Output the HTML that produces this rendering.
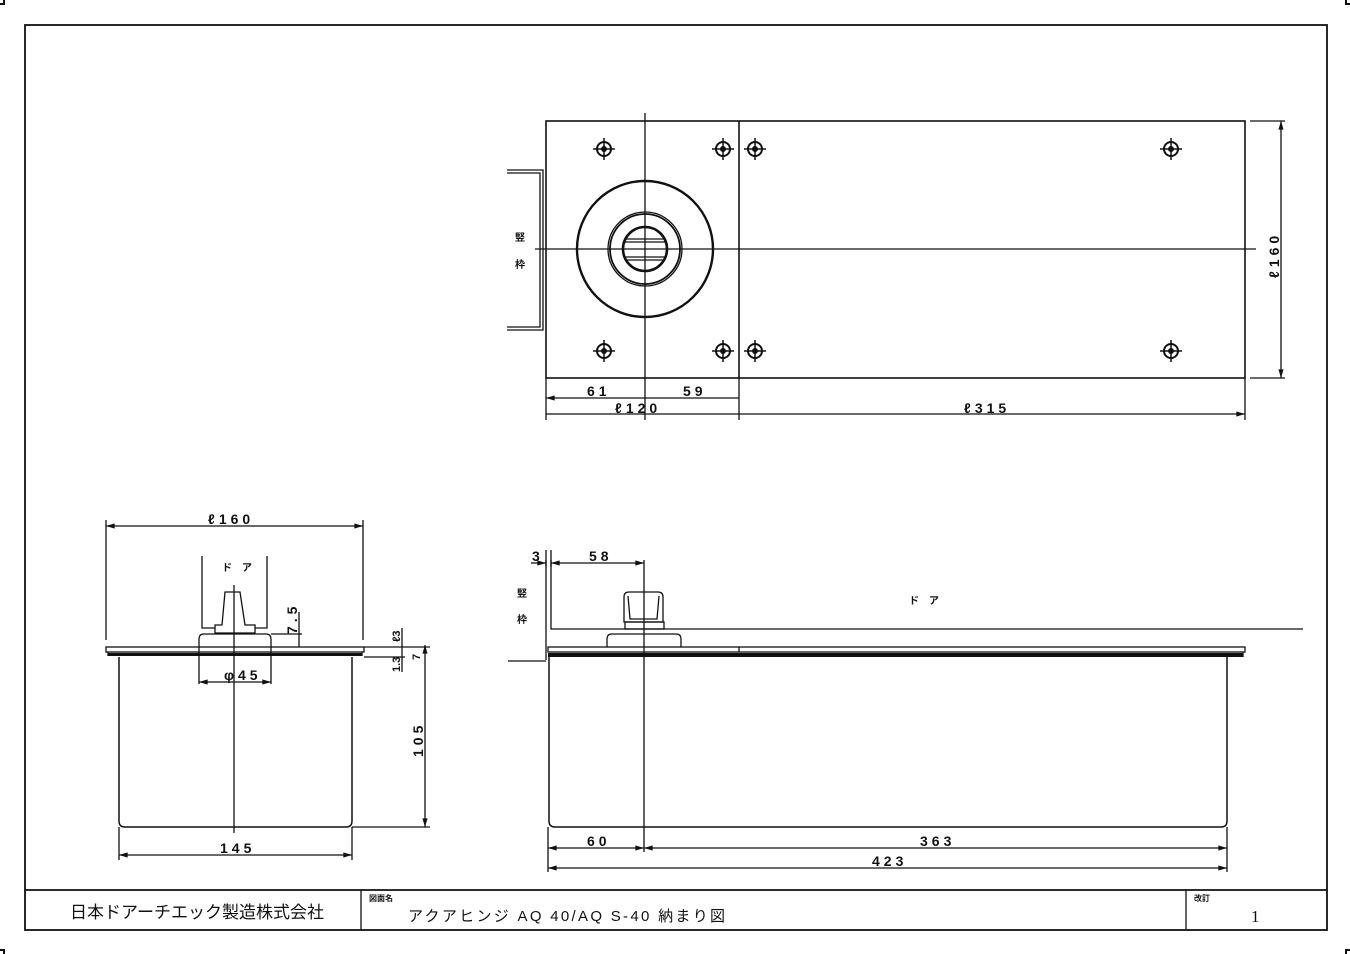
<!DOCTYPE html>
<html><head><meta charset="utf-8"><style>
html,body{margin:0;padding:0;background:#fff;}
svg{display:block;}
text{font-family:"Liberation Sans Narrow","Liberation Sans","Noto Sans CJK JP",sans-serif;fill:#111;}
.d{font-size:14px;font-weight:bold;letter-spacing:4px;}
.j{font-family:"Liberation Sans","Noto Sans CJK JP",sans-serif;font-size:10px;font-weight:bold;}
</style></head><body>
<svg width="1350" height="954" viewBox="0 0 1350 954" xmlns="http://www.w3.org/2000/svg">
<defs>
<marker id="a" viewBox="0 0 10 6" refX="10" refY="3" markerWidth="8" markerHeight="4" orient="auto-start-reverse"><path d="M0,0L10,3L0,6z" fill="#111"/></marker>
<g id="h"><circle r="7" fill="none" stroke="#111" stroke-width="2"/><circle r="3" fill="#111"/><path d="M-11,0H11M0,-11V11" stroke="#111" stroke-width="1.5"/></g>
</defs>
<g fill="none" stroke="#111" stroke-width="1.3">
<rect x="25" y="25" width="1302" height="905" stroke-width="1.8"/>
<line x1="25" y1="890" x2="1327" y2="890" stroke-width="1.8"/>
<line x1="361" y1="890" x2="361" y2="930"/>
<line x1="1186" y1="890" x2="1186" y2="930"/>
<path d="M0,4H4V0M1346,0V4H1350M0,950H4V954M1346,954V950H1350" stroke-width="2"/>

<rect x="546" y="121" width="699" height="257" stroke-width="1.6"/>
<line x1="739" y1="121" x2="739" y2="378" stroke-width="1.6"/>
<line x1="645" y1="113" x2="645" y2="420"/>
<line x1="535" y1="249" x2="1256" y2="249"/>
<circle cx="645" cy="249" r="68" stroke-width="2.4"/>
<circle cx="645" cy="249" r="37"/>
<circle cx="645" cy="249" r="35" stroke-width="1.8"/>
<circle cx="645" cy="249" r="22" stroke-width="2.6"/>
<path d="M625,239H665M625,242H665M625,257H665M625,260H665" stroke-width="1.2"/>
<path d="M507,170H543V330H507M507,173H540V327H507" stroke-width="1.3"/>
<path d="M546,378V420M739,378V420M1245,378V420"/>
<path d="M546,398H739M546,414H1245" marker-start="url(#a)" marker-end="url(#a)"/>
<path d="M1250,121H1285M1250,378H1285"/>
<line x1="1281" y1="121" x2="1281" y2="378" marker-start="url(#a)" marker-end="url(#a)"/>

<path d="M106,520V640M363,520V640"/>
<line x1="106" y1="526" x2="363" y2="526" marker-start="url(#a)" marker-end="url(#a)"/>
<path d="M202,556V628H215M267,556V628H255"/>
<path d="M225,592H240L245,625H255V633H215V625H222Z"/>
<path d="M199,647V639Q199,634 204,634H266Q271,634 271,639V647"/>
<path d="M199,647V684M271,647V684"/>
<line x1="199" y1="682" x2="271" y2="682" marker-start="url(#a)" marker-end="url(#a)"/>
<rect x="106" y="647" width="258" height="5"/>
<rect x="108" y="653" width="254" height="3" fill="#111" stroke="none"/>
<path d="M108,652V656M362,652V656"/>
<path d="M119,657V821Q119,827 125,827H346Q352,827 352,821V657" stroke-width="1.5"/>
<line x1="234" y1="585" x2="234" y2="833"/>
<path d="M119,827V860M352,827V860"/>
<line x1="119" y1="855" x2="352" y2="855" marker-start="url(#a)" marker-end="url(#a)"/>
<path d="M352,827H430M364,647H430M364,657H405M271,634H302"/>
<line x1="299" y1="612" x2="299" y2="647"/>
<line x1="402" y1="628" x2="402" y2="672"/>
<line x1="425" y1="645" x2="425" y2="827" marker-start="url(#a)" marker-end="url(#a)"/>

<path d="M546,560V660M551,560V629H1303"/>
<line x1="508" y1="661" x2="546" y2="661"/>
<path d="M624,622V597Q624,592 629,592H658Q663,592 663,597V622Z"/>
<path d="M628,596L630,619H657L659,596"/>
<rect x="625" y="622" width="39" height="7"/>
<path d="M607,647V639Q607,634 612,634H676Q681,634 681,639V647"/>
<rect x="548" y="647" width="697" height="5"/>
<line x1="739" y1="647" x2="739" y2="652"/>
<rect x="548" y="653" width="695" height="4" fill="#111" stroke="none"/>
<path d="M1243,652V657"/>
<path d="M549,657V821Q549,827 555,827H1221Q1227,827 1227,821V657" stroke-width="1.5"/>
<line x1="644" y1="560" x2="644" y2="852"/>
<path d="M546,550V567M551,550V567"/>
<line x1="531" y1="563" x2="546" y2="563" marker-end="url(#a)"/>
<line x1="551" y1="563" x2="644" y2="563" marker-start="url(#a)" marker-end="url(#a)"/>
<path d="M548,827V872M1227,827V872"/>
<line x1="548" y1="848" x2="644" y2="848" marker-start="url(#a)" marker-end="url(#a)"/>
<line x1="644" y1="848" x2="1227" y2="848" marker-start="url(#a)" marker-end="url(#a)"/>
<line x1="548" y1="868" x2="1227" y2="868" marker-start="url(#a)" marker-end="url(#a)"/>
</g>
<g>
<use href="#h" x="604" y="149"/><use href="#h" x="723" y="149"/><use href="#h" x="755" y="149"/><use href="#h" x="1171" y="149"/>
<use href="#h" x="604" y="351"/><use href="#h" x="723" y="351"/><use href="#h" x="755" y="351"/><use href="#h" x="1171" y="351"/>
</g>
<text class="j" x="515" y="241">竪</text><text class="j" x="515" y="268">枠</text>
<text class="d" x="587" y="396">61</text><text class="d" x="683" y="396">59</text>
<text class="d" x="615" y="413">ℓ120</text><text class="d" x="964" y="413">ℓ315</text>
<text class="d" transform="translate(1279,278) rotate(-90)">ℓ160</text>
<text class="d" x="208" y="524">ℓ160</text>
<text class="j" x="222" y="571">ド</text><text class="j" x="242" y="571">ア</text>
<text class="d" transform="translate(297,634) rotate(-90)">7.5</text>
<text class="d" x="224" y="680">φ45</text>
<text class="d" x="220" y="853">145</text>
<text class="d" transform="translate(423,757) rotate(-90)">105</text>
<text class="d" style="font-size:11px;letter-spacing:0" transform="translate(400,642) rotate(-90)">ℓ3</text>
<text class="d" style="font-size:11px;letter-spacing:0" transform="translate(400,672) rotate(-90)">1.3</text>
<text class="d" style="font-size:11px" transform="translate(420,660) rotate(-90)">7</text>
<text class="d" x="532" y="561">3</text><text class="d" x="589" y="561">58</text>
<text class="j" x="517" y="597">竪</text><text class="j" x="517" y="623">枠</text>
<text class="j" x="909" y="604">ド</text><text class="j" x="929" y="604">ア</text>
<text class="d" x="587" y="846">60</text><text class="d" x="920" y="846">363</text>
<text class="d" x="872" y="866">423</text>
<text x="70" y="918" style="font-family:'Liberation Sans','Noto Sans CJK JP',sans-serif;font-size:17px;">日本ドアーチエック製造株式会社</text>
<text x="369" y="901" style="font-family:'Noto Sans CJK JP',sans-serif;font-size:8px;font-weight:bold;">図面名</text>
<text x="408" y="921" style="font-family:'Liberation Sans','Noto Sans CJK JP',sans-serif;font-size:15px;letter-spacing:2.3px;">アクアヒンジ AQ 40/AQ S-40 納まり図</text>
<text x="1194" y="901" style="font-family:'Noto Sans CJK JP',sans-serif;font-size:8px;font-weight:bold;">改訂</text>
<text x="1251" y="922" style="font-family:'Liberation Serif',serif;font-size:17px;">1</text>
</svg>
</body></html>
